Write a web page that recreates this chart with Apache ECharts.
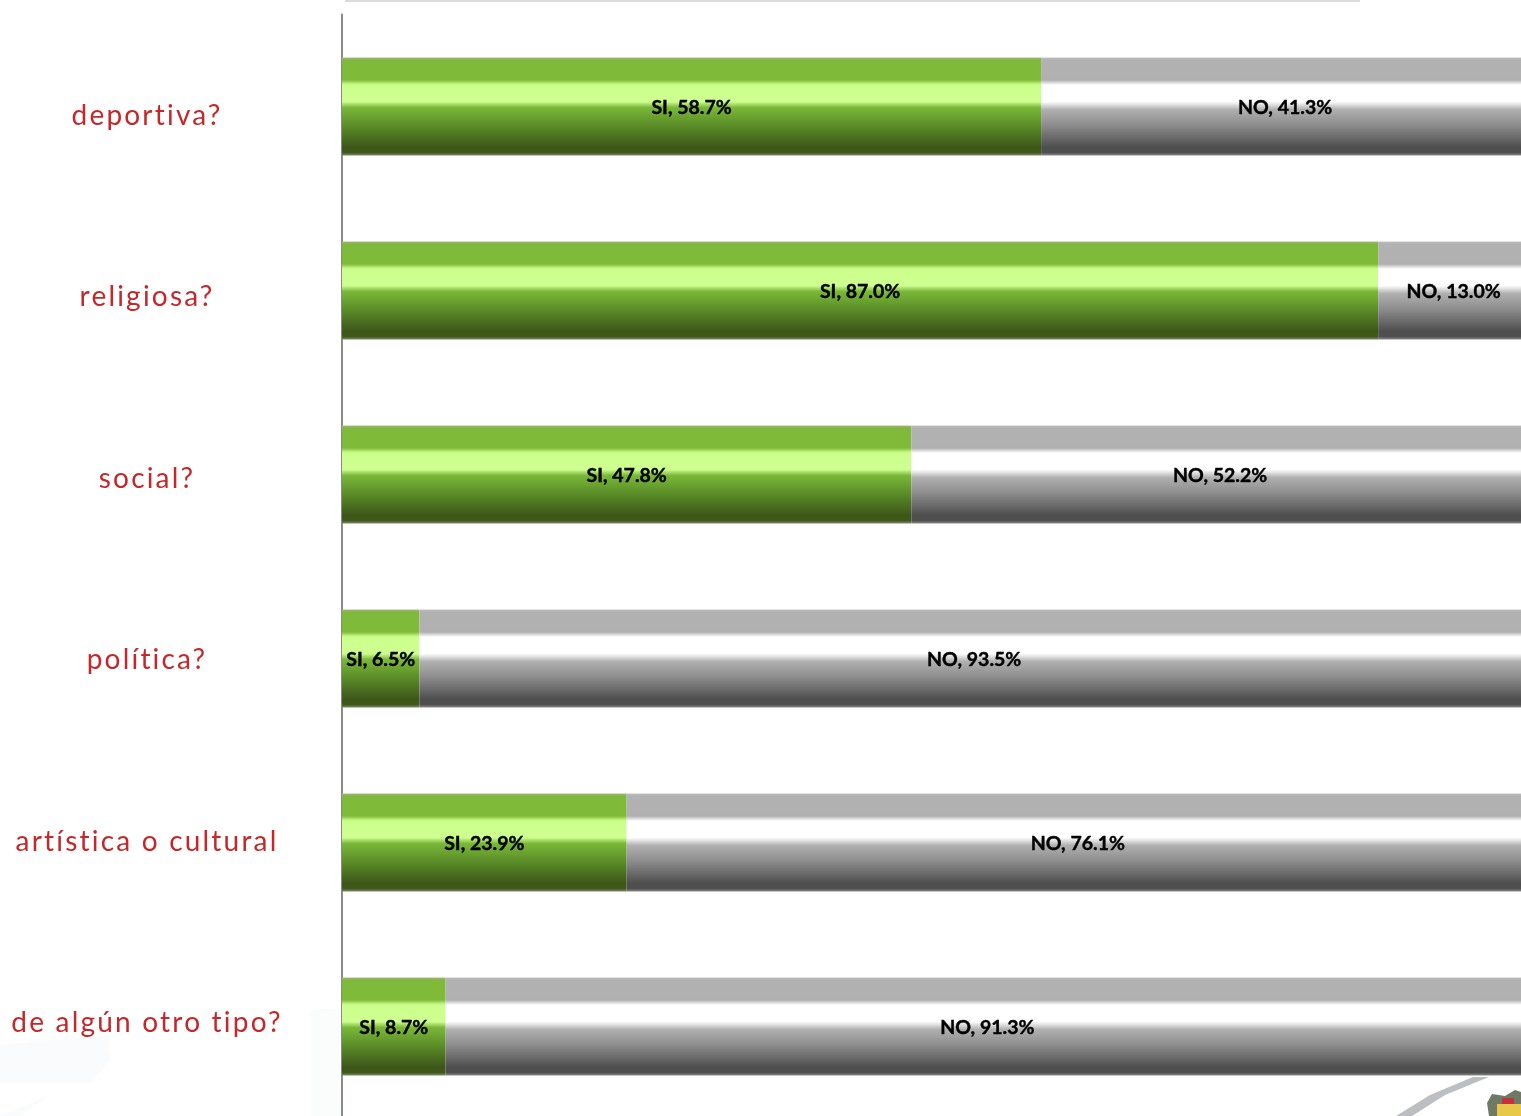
<!DOCTYPE html>
<html><head><meta charset="utf-8">
<style>html,body{margin:0;padding:0;background:#fff;overflow:hidden}#c{width:1521px;height:1116px}</style>
<script src="https://cdn.jsdelivr.net/npm/echarts@6/dist/echarts.min.js"></script>
</head><body><div id="c"></div>
<script>
const categories = ['deportiva?','religiosa?','social?','política?','artística o cultural','de algún otro tipo?'];
const siValues = [58.7,87.0,47.8,6.5,23.9,8.7];
const noValues = [41.3,13.0,52.2,93.5,76.1,91.3];

// The category labels in the reference are letter-spaced; zrender has no option for it.
const fillTextOrig = CanvasRenderingContext2D.prototype.fillText;
CanvasRenderingContext2D.prototype.fillText = function(t,x,y,m){
  if (this.font.indexOf('28px') >= 0) {
    this.letterSpacing = '2.2px';
    m === undefined ? fillTextOrig.call(this,t,x,y) : fillTextOrig.call(this,t,x,y,m);
    this.letterSpacing = '0px';
  } else {
    m === undefined ? fillTextOrig.call(this,t,x,y) : fillTextOrig.call(this,t,x,y,m);
  }
};

const grad = stops => new echarts.graphic.LinearGradient(0,0,0,1,stops.map(s=>({offset:s[0],color:s[1]})));
const green = grad([[0,'#a5bf84'],[0.02,'#85b548'],[0.06,'#7fba38'],[0.23,'#7fbb38'],[0.27,'#c4f880'],[0.29,'#ccff8c'],[0.45,'#ceff91'],[0.51,'#7ab839'],[0.7,'#5a8c28'],[0.92,'#3d5518'],[0.97,'#3f5a1a'],[1,'#7d8a6c']]);
const gray = grad([[0,'#c4c4c4'],[0.02,'#b2b2b2'],[0.23,'#b0b0b0'],[0.28,'#ffffff'],[0.45,'#ffffff'],[0.53,'#b0b0b0'],[0.7,'#8a8a8a'],[0.92,'#4d4d4d'],[0.97,'#505050'],[1,'#8a8a8a']]);
const labBase = {show:true,position:'inside',color:'#000',fontFamily:'Lato',fontWeight:'bold',fontSize:19.5,
  textBorderColor:'#000',textBorderWidth:0.4,
  formatter:p=>p.seriesName+', '+p.value.toFixed(1)+'%'};

const chart = echarts.init(document.getElementById('c'),null,{renderer:'canvas'});
chart.setOption({
  animation:false,
  backgroundColor:'#fff',
  grid:[{left:342,top:14.5,width:1191,height:1104,outerBoundsMode:'none'},{left:342,top:25,width:1191,height:1089,outerBoundsMode:'none'}],
  xAxis:[{type:'value',min:0,max:100,gridIndex:0,show:false},{type:'value',min:0,max:100,gridIndex:1,show:false}],
  yAxis:[
    {type:'category',inverse:true,gridIndex:0,data:categories,
     axisLine:{show:true,lineStyle:{color:'#8a8a8a',width:2}},axisTick:{show:false},axisLabel:{show:false}},
    {type:'category',inverse:true,gridIndex:1,data:categories,
     axisLine:{show:false},axisTick:{show:false},
     axisLabel:{show:true,align:'center',margin:195,color:'#c5282a',fontFamily:'Lato',fontSize:28}}
  ],
  series:[
    {name:'SI',type:'bar',stack:'t',xAxisIndex:0,yAxisIndex:0,barWidth:98,data:siValues,itemStyle:{color:green},label:{...labBase,offset:[0,1]}},
    {name:'NO',type:'bar',stack:'t',xAxisIndex:0,yAxisIndex:0,barWidth:98,data:noValues,itemStyle:{color:gray},label:{...labBase,offset:[-2,1]}}
  ],
  graphic:[
    {type:'rect',z:-1,shape:{x:345,y:-4,width:1015,height:6},style:{fill:'#dcdae0'}},
    {type:'polygon',z:-1,shape:{points:[[0,1045],[108,1035],[110,1060],[90,1083],[0,1083]]},style:{fill:'#fafbfc'}},
    {type:'polygon',z:-1,shape:{points:[[0,1116],[50,1095],[20,1116]]},style:{fill:'#fafbfc'}},
    {type:'polygon',z:-1,shape:{points:[[310,1010],[340,1008],[340,1116],[310,1116]]},style:{fill:'#fbfcfc'}},
    {type:'polygon',z:-1,shape:{points:[[1396,1116],[1430,1095],[1473,1077],[1489,1077],[1445,1095],[1412,1116]]},style:{fill:'#bcbec2'}},
    {type:'polygon',z:-1,shape:{points:[[1487,1103],[1492,1094],[1505,1096],[1515,1090],[1521,1092],[1521,1116],[1489,1116]]},style:{fill:'#6f7a66'}},
    {type:'rect',z:-1,shape:{x:1497,y:1104,width:24,height:12},style:{fill:'#e8c84a'}},
    {type:'rect',z:-1,shape:{x:1502,y:1098,width:12,height:6},style:{fill:'#c8313a'}}
  ]
});
</script></body></html>
